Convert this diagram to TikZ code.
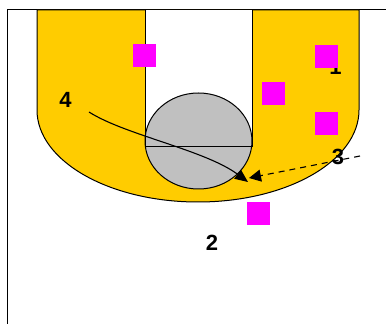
\documentclass[tikz,border=0pt]{standalone}
\usepackage{fontspec}
\setmainfont{Liberation Sans}
\usetikzlibrary{positioning,calc,arrows.meta}
\definecolor{keygold}{HTML}{FFCC00}
\definecolor{circgray}{HTML}{C0C0C0}
\definecolor{defpink}{HTML}{FF00FF}
\tikzstyle{player} = [ inner sep = 0pt, font = \bfseries\fontsize{22}{26}\selectfont]
\tikzstyle{defender} = [ fill = defpink, inner sep = 0pt, minimum size = 23pt]
\tikzstyle{cut} = [ line width = 1.1pt, -{Triangle[length=13pt,width=11pt]}]
\tikzstyle{pass} = [ line width = 1.1pt, dash pattern = on 6pt off 5pt, -{Triangle[length=12pt,width=12pt]}]

\begin{document}
\begin{tikzpicture}[x=1pt, y=1pt]
	\useasboundingbox (0,0) rectangle (386,324);
	% court lines
	\draw[line width=1pt] (7,0) -- (7,314) -- (386,314);
	% key
	\draw[fill=keygold, line width=1pt] (37,314) -- (37,214) arc[start angle=180, end angle=360, x radius=161, y radius=92] -- (359,314) -- cycle;
	\fill[white] (145,314) rectangle (252,177);
	\draw[fill=circgray, line width=1pt] (198.5,183) ellipse[x radius=53.5, y radius=48];
	\draw[line width=1pt] (145,314) -- (145,177) -- (252,177) -- (252,314);

	\node[player] (p1) at ( 335.5, 257 ) {1};
	\node[defender] (d1) at ( 144.5, 268.5 ) {};
	\node[defender] (d2) at ( 326.5, 267.5 ) {};
	\node[defender] (d3) at ( 273.5, 230.5 ) {};
	\node[defender] (d4) at ( 326.5, 200.5 ) {};
	\node[defender] (d5) at ( 258.5, 110.5 ) {};

	\coordinate (s4) at ( 89, 212 );
	\coordinate (e4) at ( 248, 142 );
	\coordinate (s3) at ( 360, 168 );
	\coordinate (e3) at ( 249, 146 );
	\draw[cut] (s4) .. controls (125,189) and (205,174) .. (e4);
	\draw[pass] (s3) -- (e3);

	\node[player] (p4) at ( 65.5, 224.5 ) {4};
	\node[player] (p3) at ( 338, 167 ) {3};
	\node[player] (p2) at ( 212, 81 ) {2};
\end{tikzpicture}
\end{document}
